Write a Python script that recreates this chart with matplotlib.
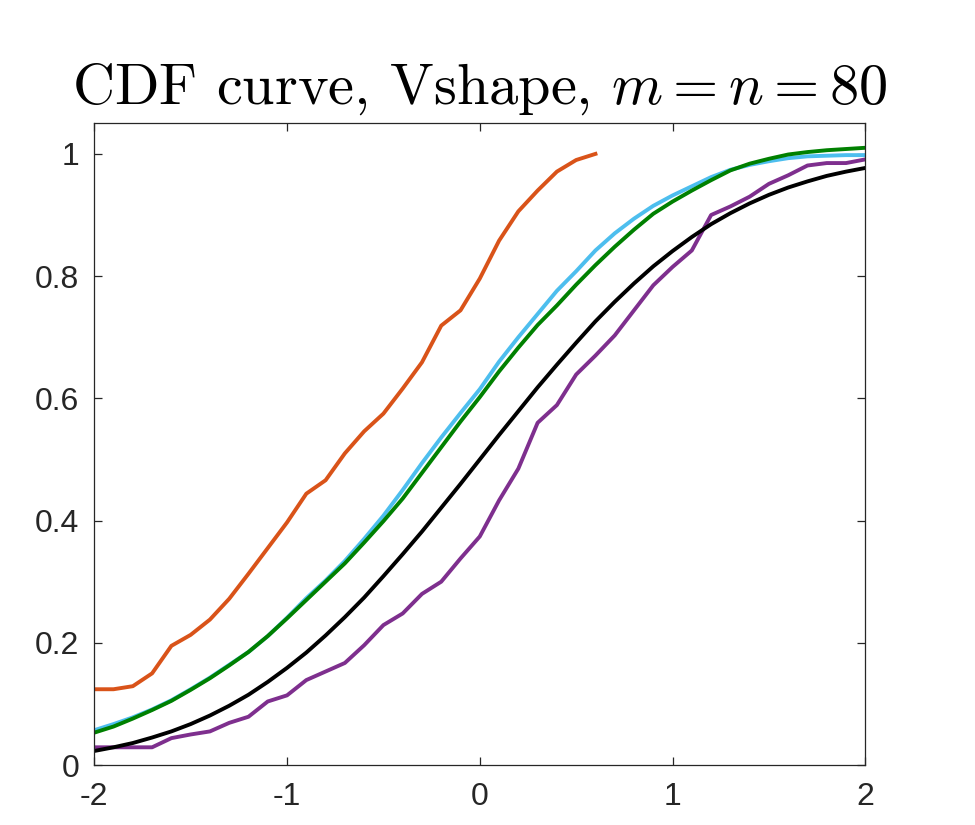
import matplotlib
matplotlib.use("Agg")
import matplotlib.pyplot as plt

# x grid shared by the curves (step 0.1)
x_full = [round(-2 + 0.1 * i, 1) for i in range(41)]
x_orange = x_full[:27]   # -2 .. 0.6

normal_cdf = [0.023, 0.029, 0.036, 0.045, 0.055, 0.067, 0.081, 0.097, 0.115, 0.136,
              0.159, 0.184, 0.212, 0.242, 0.274, 0.309, 0.345, 0.382, 0.421, 0.460,
              0.500, 0.540, 0.579, 0.618, 0.655, 0.691, 0.726, 0.758, 0.788, 0.816,
              0.841, 0.864, 0.885, 0.903, 0.919, 0.933, 0.945, 0.955, 0.964, 0.971,
              0.977]

orange_vals = [0.124, 0.124, 0.129, 0.150, 0.195, 0.213, 0.238, 0.272, 0.313, 0.355,
               0.397, 0.444, 0.466, 0.510, 0.546, 0.575, 0.616, 0.659, 0.719, 0.744,
               0.796, 0.858, 0.906, 0.940, 0.971, 0.990, 1.000]

blue_vals = [0.057, 0.067, 0.078, 0.091, 0.106, 0.124, 0.143, 0.164, 0.185, 0.211,
             0.241, 0.273, 0.302, 0.334, 0.370, 0.408, 0.450, 0.494, 0.536, 0.576,
             0.615, 0.660, 0.700, 0.738, 0.776, 0.808, 0.842, 0.870, 0.894, 0.915,
             0.932, 0.947, 0.962, 0.974, 0.982, 0.988, 0.993, 0.996, 0.997, 0.998,
             0.998]

green_vals = [0.053, 0.063, 0.076, 0.090, 0.105, 0.123, 0.142, 0.163, 0.185, 0.211,
              0.240, 0.270, 0.300, 0.330, 0.364, 0.399, 0.436, 0.478, 0.520, 0.562,
              0.602, 0.644, 0.683, 0.720, 0.752, 0.786, 0.818, 0.848, 0.876, 0.902,
              0.922, 0.940, 0.957, 0.973, 0.984, 0.992, 0.999, 1.003, 1.006, 1.008,
              1.010]

purple_vals = [0.029, 0.029, 0.029, 0.029, 0.044, 0.050, 0.055, 0.069, 0.079, 0.104,
               0.114, 0.139, 0.153, 0.167, 0.196, 0.229, 0.248, 0.280, 0.300, 0.338,
               0.374, 0.433, 0.485, 0.560, 0.589, 0.639, 0.670, 0.703, 0.744, 0.785,
               0.815, 0.842, 0.900, 0.914, 0.930, 0.951, 0.965, 0.981, 0.985, 0.985,
               0.991]

x_ticks = [-2, -1, 0, 1, 2]
y_ticks = [0, 0.2, 0.4, 0.6, 0.8, 1]
y_tick_labels = ["0", "0.2", "0.4", "0.6", "0.8", "1"]

plt.rcParams['mathtext.fontset'] = 'cm'
plt.rcParams['axes.unicode_minus'] = False

fig = plt.figure(figsize=(9.75, 8.25), dpi=100)
ax = fig.add_axes([0.0967, 0.0727, 0.7908, 0.7778])

lw = 2.8
ax.plot(x_orange, orange_vals, color='#D95319', lw=lw)
ax.plot(x_full, blue_vals, color='#4DBEEE', lw=lw)
ax.plot(x_full, green_vals, color='#008000', lw=lw)
ax.plot(x_full, purple_vals, color='#7E2F8E', lw=lw)
ax.plot(x_full, normal_cdf, color='black', lw=lw)

ax.set_xlim(-2, 2)
ax.set_ylim(0, 1.05)
ax.set_xticks(x_ticks)
ax.set_xticklabels([str(t) for t in x_ticks])
ax.set_yticks(y_ticks)
ax.set_yticklabels(y_tick_labels)

for s in ax.spines.values():
    s.set_color('#262626')
    s.set_linewidth(0.9)
ax.tick_params(direction='in', length=5.5, width=0.9, color='#262626',
               top=True, right=True, labelsize=23, labelcolor='#262626')
ax.tick_params(axis='x', pad=12)
ax.tick_params(axis='y', pad=11)
for lab in ax.get_xticklabels() + ax.get_yticklabels():
    lab.set_family('Liberation Sans')

ax.set_title(r"CDF curve, Vshape, $m = n = 80$", fontname='cmr10',
             fontsize=42, pad=14)

fig.savefig("out.png", dpi=100)
